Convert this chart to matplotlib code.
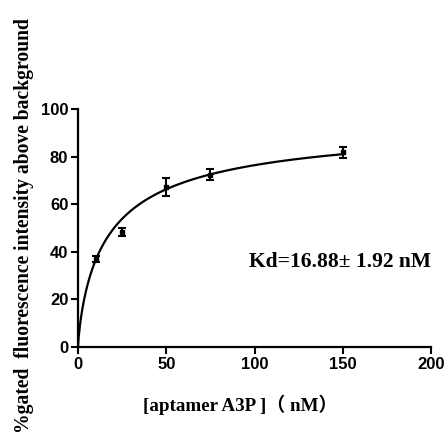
import numpy as np
import matplotlib
matplotlib.use("Agg")
import matplotlib.pyplot as plt

# measured points
conc = [10, 25, 50, 75, 150]
signal = [37.0, 48.3, 67.2, 72.3, 81.9]
sem = [1.2, 1.7, 3.7, 2.3, 2.3]

# fitted binding curve (as drawn)
k_half = 18.5
bmax = 96.2
hill = 0.8

x_ticks = [0, 50, 100, 150, 200]
y_ticks = [0, 20, 40, 60, 80, 100]

fig = plt.figure(figsize=(4.46, 4.40), dpi=100)
ax = fig.add_axes([0.1749, 0.2114, 0.7915, 0.5409])

xfit = np.linspace(0, 150, 400)
yfit = bmax * xfit**hill / (k_half**hill + xfit**hill)
ax.plot(xfit, yfit, color="black", lw=1.6)
ax.errorbar(conc, signal, yerr=sem, fmt="s", color="black", ms=3.5,
            capsize=3, elinewidth=1.5, capthick=1.5)

ax.set_xlim(0, 200)
ax.set_ylim(0, 100)
ax.set_xticks(x_ticks)
ax.set_yticks(y_ticks)
for s in ["top", "right"]:
    ax.spines[s].set_visible(False)
for s in ["left", "bottom"]:
    ax.spines[s].set_linewidth(1.6)
ax.tick_params(width=1.5, length=5, pad=2)
for lab in ax.get_xticklabels() + ax.get_yticklabels():
    lab.set_fontfamily("Liberation Sans")
    lab.set_fontweight("bold")
    lab.set_fontsize(12)

ax.text(97, 35.7, "Kd=16.88\u00b1 1.92 nM", fontsize=15.5, fontweight="bold",
        family="Liberation Serif", va="center", ha="left")

fig.text(240 / 446, 1 - 405 / 440, "[aptamer A3P ]\uff08 nM\uff09", fontsize=13.7,
         fontweight="bold", family=["Liberation Serif", "Noto Sans CJK SC"],
         ha="center", va="center")
fig.text(24 / 446, 1 - 226 / 440, "%gated  fluorescence intensity above background",
         rotation=90, fontsize=14.1, fontweight="bold", family="Liberation Serif",
         ha="center", va="center")

fig.savefig("out.png", dpi=100)
